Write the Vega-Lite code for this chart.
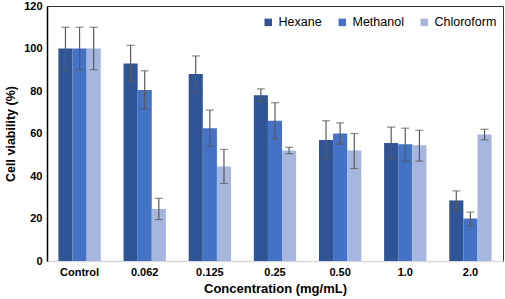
{
  "$schema": "https://vega.github.io/schema/vega-lite/v6.json",
  "autosize": {"type": "none"},
  "width": 456,
  "height": 255,
  "padding": {"left": 47, "top": 6, "right": 2, "bottom": 38},
  "background": "white",
  "config": {
    "font": "Liberation Sans",
    "view": {"stroke": "#333333", "strokeWidth": 1},
    "axis": {"grid": false, "labelFont": "Liberation Sans", "titleFont": "Liberation Sans"}
  },
  "data": {
    "values": [
      {"conc": "Control", "solvent": "Hexane", "value": 100, "lo": 90, "hi": 110},
      {"conc": "Control", "solvent": "Methanol", "value": 100, "lo": 90, "hi": 110},
      {"conc": "Control", "solvent": "Chloroform", "value": 100, "lo": 90, "hi": 110},
      {"conc": "0.062", "solvent": "Hexane", "value": 93, "lo": 84.5, "hi": 101.5},
      {"conc": "0.062", "solvent": "Methanol", "value": 80.5, "lo": 71.5, "hi": 89.5},
      {"conc": "0.062", "solvent": "Chloroform", "value": 24.5, "lo": 19.5, "hi": 29.5},
      {"conc": "0.125", "solvent": "Hexane", "value": 88, "lo": 79.5, "hi": 96.5},
      {"conc": "0.125", "solvent": "Methanol", "value": 62.5, "lo": 54, "hi": 71},
      {"conc": "0.125", "solvent": "Chloroform", "value": 44.5, "lo": 36.5, "hi": 52.5},
      {"conc": "0.25", "solvent": "Hexane", "value": 78, "lo": 75, "hi": 81},
      {"conc": "0.25", "solvent": "Methanol", "value": 66, "lo": 57.5, "hi": 74.5},
      {"conc": "0.25", "solvent": "Chloroform", "value": 52, "lo": 50.5, "hi": 53.5},
      {"conc": "0.50", "solvent": "Hexane", "value": 57, "lo": 48, "hi": 66},
      {"conc": "0.50", "solvent": "Methanol", "value": 60, "lo": 55, "hi": 65},
      {"conc": "0.50", "solvent": "Chloroform", "value": 52, "lo": 43.5, "hi": 60},
      {"conc": "1.0", "solvent": "Hexane", "value": 55.5, "lo": 48, "hi": 63},
      {"conc": "1.0", "solvent": "Methanol", "value": 55, "lo": 47, "hi": 62.5},
      {"conc": "1.0", "solvent": "Chloroform", "value": 54.5, "lo": 47, "hi": 61.5},
      {"conc": "2.0", "solvent": "Hexane", "value": 28.5, "lo": 23.5, "hi": 33},
      {"conc": "2.0", "solvent": "Methanol", "value": 20, "lo": 16.5, "hi": 23},
      {"conc": "2.0", "solvent": "Chloroform", "value": 59.5, "lo": 57, "hi": 62}
    ]
  },
  "encoding": {
    "x": {
      "field": "conc", "type": "nominal",
      "sort": ["Control", "0.062", "0.125", "0.25", "0.50", "1.0", "2.0"],
      "scale": {"paddingInner": 0.35, "paddingOuter": 0.175},
      "axis": {
        "title": "Concentration (mg/mL)", "labelAngle": 0, "ticks": false,
        "labelFontSize": 11, "labelFontWeight": "bold", "labelColor": "black", "labelPadding": 5,
        "titleFontSize": 13, "titleFontWeight": "bold", "titleColor": "black", "titlePadding": 5,
        "domainColor": "#d9d9d9", "domainWidth": 1.5
      }
    },
    "xOffset": {"field": "solvent", "type": "nominal", "sort": ["Hexane", "Methanol", "Chloroform"], "scale": {"paddingInner": 0, "paddingOuter": 0}}
  },
  "layer": [
    {
      "mark": {"type": "bar"},
      "encoding": {
        "y": {
          "field": "value", "type": "quantitative",
          "scale": {"domain": [0, 120]},
          "axis": {
            "title": "Cell viability (%)", "values": [0, 20, 40, 60, 80, 100, 120], "ticks": false,
            "labelFontSize": 11, "labelFontWeight": "bold", "labelColor": "black", "labelPadding": 5,
            "titleFontSize": 12.5, "titleFontWeight": "bold", "titleColor": "black", "titlePadding": 6,
            "domainColor": "black", "domainWidth": 1.5
          }
        },
        "color": {
          "field": "solvent", "type": "nominal",
          "sort": ["Hexane", "Methanol", "Chloroform"],
          "scale": {"domain": ["Hexane", "Methanol", "Chloroform"], "range": ["#2f5597", "#4472c4", "#a6b6de"]},
          "legend": {
            "title": null, "orient": "none", "direction": "horizontal", "columns": 3,
            "legendX": 215, "legendY": 10, "padding": 0,
            "symbolType": "square", "symbolSize": 56, "symbolStrokeWidth": 0,
            "labelFontSize": 12.5, "labelColor": "black", "labelFont": "Liberation Sans",
            "columnPadding": 14, "labelOffset": 4
          }
        }
      }
    },
    {
      "mark": {"type": "rule", "color": "#595959", "strokeWidth": 1.2},
      "encoding": {
        "y": {"field": "lo", "type": "quantitative"},
        "y2": {"field": "hi"}
      }
    },
    {
      "mark": {"type": "tick", "color": "#595959", "thickness": 1.2, "size": 8},
      "encoding": {
        "y": {"field": "lo", "type": "quantitative"}
      }
    },
    {
      "mark": {"type": "tick", "color": "#595959", "thickness": 1.2, "size": 8},
      "encoding": {
        "y": {"field": "hi", "type": "quantitative"}
      }
    }
  ]
}
